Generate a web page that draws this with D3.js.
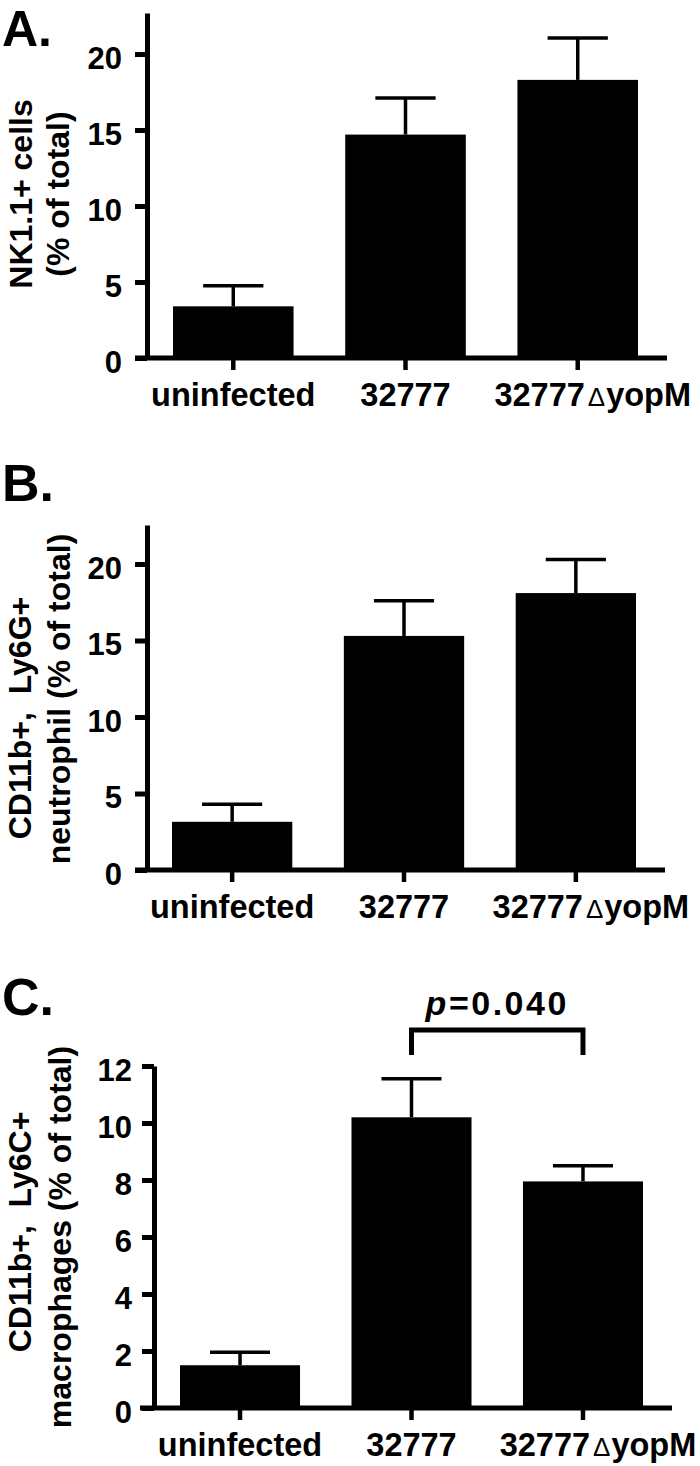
<!DOCTYPE html>
<html lang="en">
<head>
    <meta charset="UTF-8">
    <title>NK, neutrophil and macrophage bars</title>
    <script src="https://d3js.org/d3.v7.min.js"></script>
    <style>
        body { margin: 0; background: #fff; }
        text { font-family: "Liberation Sans", Arial, Helvetica, sans-serif; font-weight: bold; white-space: pre; }
    </style>
</head>
<body>
    <script>
        // Data
        const categories = ['uninfected', '32777', '32777ΔyopM'];

        const nkMeans = [3.4, 14.7, 18.3];
        const nkErr = [1.35, 2.4, 2.75];

        const neutMeans = [3.15, 15.3, 18.1];
        const neutErr = [1.15, 2.3, 2.2];

        const macMeans = [1.5, 10.2, 7.95];
        const macErr = [0.46, 1.35, 0.55];

        const ticksAB = [0, 5, 10, 15, 20];
        const ticksC = [0, 2, 4, 6, 8, 10, 12];

        const pLabel = '0.040';

        const width = 700;
        const height = 1466;
        const svg = d3.select('body')
            .append('svg')
            .attr('width', width)
            .attr('height', height);

        // layout for each panel
        const panels = [
            {
                letter: 'A.', letterY: 46, letterSize: 50,
                means: nkMeans, err: nkErr, ticks: ticksAB, yMax: 22.7,
                y0: 358, yTop: 13, axisX: 147, xLeft: 135, xRight: 667,
                barLeft: 173, barRight: 638, labelGap: 25,
                titles: [
                    { text: 'NK1.1+ cells', x: 32, cy: 194 },
                    { text: '(% of total)', x: 69, cy: 194 }
                ]
            },
            {
                letter: 'B.', letterY: 501, letterSize: 52,
                means: neutMeans, err: neutErr, ticks: ticksAB, yMax: 22.55,
                y0: 870, yTop: 525, axisX: 147, xLeft: 135, xRight: 665,
                barLeft: 172, barRight: 636, labelGap: 25,
                titles: [
                    { text: 'CD11b+,  Ly6G+', x: 31, cy: 718 },
                    { text: 'neutrophil (% of total)', x: 70, cy: 699 }
                ]
            },
            {
                letter: 'C.', letterY: 1015, letterSize: 52,
                means: macMeans, err: macErr, ticks: ticksC, yMax: 12,
                y0: 1408, yTop: 1066, axisX: 154, xLeft: 140, xRight: 672,
                barLeft: 180, barRight: 643, labelGap: 22,
                titles: [
                    { text: 'CD11b+,  Ly6C+', x: 31, cy: 1232 },
                    { text: 'macrophages (% of total)', x: 71, cy: 1237 }
                ],
                bracket: { from: 1, to: 2, y: 1030, drop: 25 }
            }
        ];

        function drawPanel(p) {
            const x = d3.scaleBand()
                .domain(categories)
                .range([p.barLeft, p.barRight])
                .paddingInner(0.3)
                .paddingOuter(0);
            const y = d3.scaleLinear()
                .domain([0, p.yMax])
                .range([p.y0, p.yTop]);

            const g = svg.append('g');
            const rows = categories.map((c, i) => ({ cat: c, mean: p.means[i], err: p.err[i] }));

            // bars
            g.selectAll('rect.bar')
                .data(rows)
                .join('rect')
                .attr('class', 'bar')
                .attr('x', d => x(d.cat))
                .attr('y', d => y(d.mean))
                .attr('width', x.bandwidth())
                .attr('height', d => y(0) - y(d.mean))
                .attr('fill', '#000');

            // error bars (upper only)
            const cx = d => x(d.cat) + x.bandwidth() / 2;
            g.selectAll('line.err')
                .data(rows)
                .join('line')
                .attr('class', 'err')
                .attr('x1', cx).attr('x2', cx)
                .attr('y1', d => y(d.mean))
                .attr('y2', d => y(d.mean + d.err))
                .attr('stroke', '#000')
                .attr('stroke-width', 3.5);
            g.selectAll('line.cap')
                .data(rows)
                .join('line')
                .attr('class', 'cap')
                .attr('x1', d => cx(d) - x.bandwidth() / 4)
                .attr('x2', d => cx(d) + x.bandwidth() / 4)
                .attr('y1', d => y(d.mean + d.err))
                .attr('y2', d => y(d.mean + d.err))
                .attr('stroke', '#000')
                .attr('stroke-width', 3.5);

            // y axis
            const yAxis = d3.axisLeft(y)
                .tickValues(p.ticks)
                .tickSize(12)
                .tickSizeOuter(0)
                .tickPadding(p.labelGap - 12);
            const ga = g.append('g')
                .attr('transform', `translate(${p.axisX},0)`)
                .call(yAxis);
            ga.attr('font-family', null).attr('font-size', null);
            ga.select('.domain').attr('stroke-width', 5);
            ga.selectAll('.tick line').attr('stroke-width', 5);
            ga.selectAll('.tick text')
                .attr('font-size', 31)
                .attr('fill', '#000')
                .attr('dy', '0.46em');

            // x axis
            g.append('line')
                .attr('x1', p.xLeft).attr('x2', p.xRight)
                .attr('y1', y(0)).attr('y2', y(0))
                .attr('stroke', '#000')
                .attr('stroke-width', 5);
            const xAxis = d3.axisBottom(x).tickSize(12).tickPadding(13);
            const gx = g.append('g')
                .attr('transform', `translate(0,${y(0)})`)
                .call(xAxis);
            gx.attr('font-family', null).attr('font-size', null);
            gx.select('.domain').remove();
            gx.selectAll('.tick line').attr('stroke-width', 4.5);
            gx.selectAll('.tick text')
                .attr('font-size', 32.5)
                .attr('fill', '#000')
                .each(function(d) {
                    if (d.indexOf('Δ') < 0) return;
                    const parts = d.split('Δ');
                    const t = d3.select(this).text(null).attr('x', 15);
                    t.append('tspan').text(parts[0]);
                    t.append('tspan').text('Δ')
                        .attr('dx', 3)
                        .attr('font-size', 26)
                        .attr('font-weight', 'normal');
                    t.append('tspan').text(parts[1]).attr('dx', 1);
                });

            // axis titles
            p.titles.forEach(t => {
                g.append('text')
                    .attr('transform', `translate(${t.x},${t.cy}) rotate(-90)`)
                    .attr('text-anchor', 'middle')
                    .attr('font-size', 32)
                    .text(t.text);
            });

            // panel letter
            g.append('text')
                .attr('x', 2)
                .attr('y', p.letterY)
                .attr('font-size', p.letterSize)
                .text(p.letter);

            // significance bracket
            if (p.bracket) {
                const b = p.bracket;
                const xa = cx(rows[b.from]);
                const xb = cx(rows[b.to]);
                g.append('path')
                    .attr('d', `M${xa},${b.y + b.drop}V${b.y}H${xb}V${b.y + b.drop}`)
                    .attr('fill', 'none')
                    .attr('stroke', '#000')
                    .attr('stroke-width', 5);
                const pt = g.append('text')
                    .attr('x', (xa + xb) / 2)
                    .attr('y', b.y - 15)
                    .attr('text-anchor', 'middle')
                    .attr('font-size', 34)
                    .attr('letter-spacing', 2.5);
                pt.append('tspan').attr('font-style', 'italic').text('p');
                pt.append('tspan').text('=' + pLabel);
            }
        }

        panels.forEach(drawPanel);
    </script>
</body>
</html>
